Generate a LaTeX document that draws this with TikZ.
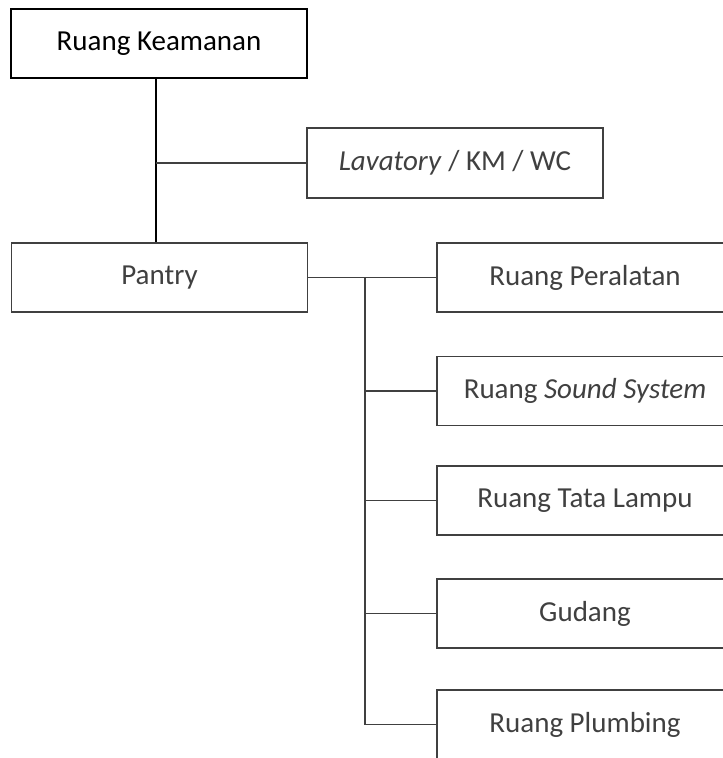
\documentclass[tikz,border=0pt]{standalone}
\usepackage{fontspec}
\setmainfont{Carlito}
\definecolor{dgray}{HTML}{404040}
\tikzset{
  roombox/.style={draw=dgray, line width=1.2pt, text=dgray, minimum width=296pt, minimum height=69pt, inner sep=0pt, font=\fontsize{29}{34}\selectfont},
  mainbox/.style={roombox, draw=black, text=black},
  link/.style={draw=dgray, line width=1.2pt},
}
\begin{document}
\begin{tikzpicture}[x=1pt,y=-1pt]
\useasboundingbox (0,0) rectangle (723,758);
\clip (0,0) rectangle (723,758);
\node[mainbox] (k) at (159,43.5) {Ruang Keamanan};
\node[roombox, minimum height=70pt] (lav) at (455,163) {\textit{Lavatory} / KM / WC};
\node[roombox] (pan) at (159.5,277.5) {Pantry};
\node[roombox] (per) at (585,277.5) {Ruang Peralatan};
\node[roombox] (snd) at (585,391) {Ruang \textit{Sound System}};
\node[roombox] (tata) at (585,500.5) {Ruang Tata Lampu};
\node[roombox] (gud) at (585,613.5) {Gudang};
\node[roombox] (plu) at (585,724.5) {Ruang Plumbing};
\coordinate (vtop) at ([xshift=-3pt]k.south);
\coordinate (vbot) at ([xshift=-3.5pt]pan.north);
\draw[line width=1.3pt, black] (vtop) -- (vbot);
\draw[link] (lav.west) -- (lav.west -| vtop);
\coordinate (ttop) at (365,277.5);
\draw[link] (pan.east) -- (per.west);
\draw[link] (ttop) |- (plu.west);
\draw[link] (snd.west) -- (snd.west -| ttop);
\draw[link] (tata.west) -- (tata.west -| ttop);
\draw[link] (gud.west) -- (gud.west -| ttop);
\end{tikzpicture}
\end{document}
